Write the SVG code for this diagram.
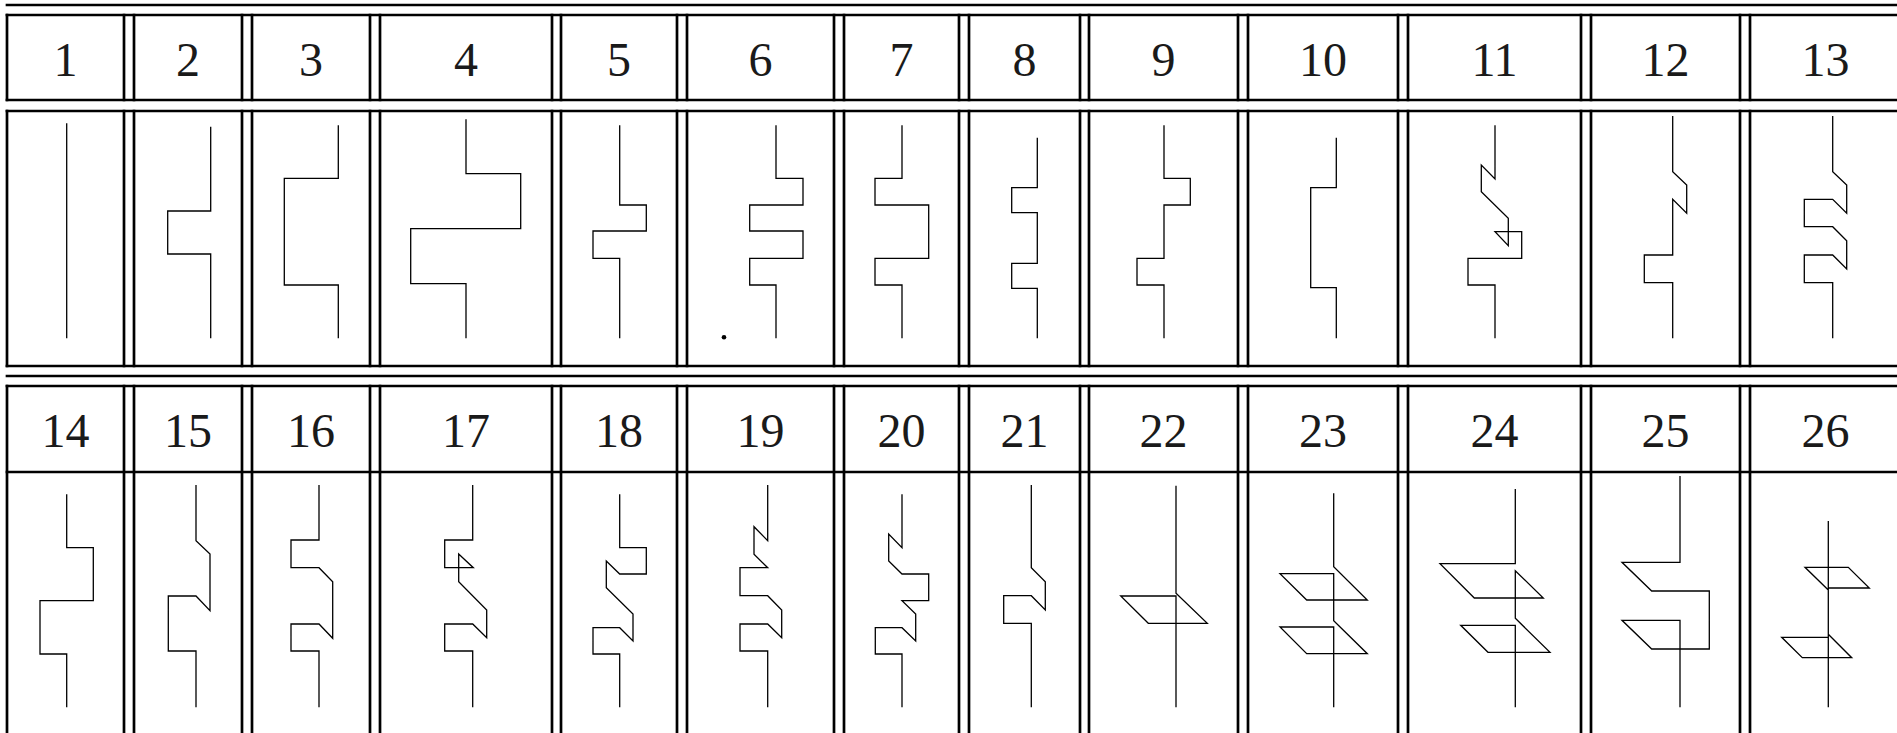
<svg xmlns="http://www.w3.org/2000/svg" width="1897" height="733" viewBox="0 0 1897 733">
<style>
.rule{fill:none;stroke:#000;stroke-width:2.7;stroke-linecap:square}
.fig{fill:none;stroke:#000;stroke-width:1.3;stroke-linejoin:miter}
.num{font-family:"Liberation Serif","DejaVu Serif",serif;font-size:48px;fill:#1a1a1a;text-anchor:middle}
</style>
<rect width="1897" height="733" fill="#fff"/>
<g id="table">
<path class="rule" d="M7,5H1897 M7,15H1897 M7,100H1897 M7,111H1897 M7,366H1897 M7,376H1897 M7,386H1897 M7,472H1897"/>
<path class="rule" d="M7,15V100 M124,15V100 M134,15V100 M242,15V100 M252,15V100 M370,15V100 M380,15V100 M552,15V100 M561,15V100 M677,15V100 M687,15V100 M834,15V100 M844,15V100 M959,15V100 M969,15V100 M1080,15V100 M1089,15V100 M1238,15V100 M1248,15V100 M1398,15V100 M1408,15V100 M1581,15V100 M1591,15V100 M1740,15V100 M1750,15V100"/>
<path class="rule" d="M7,111V366 M124,111V366 M134,111V366 M242,111V366 M252,111V366 M370,111V366 M380,111V366 M552,111V366 M561,111V366 M677,111V366 M687,111V366 M834,111V366 M844,111V366 M959,111V366 M969,111V366 M1080,111V366 M1089,111V366 M1238,111V366 M1248,111V366 M1398,111V366 M1408,111V366 M1581,111V366 M1591,111V366 M1740,111V366 M1750,111V366"/>
<path class="rule" d="M7,386V735 M124,386V735 M134,386V735 M242,386V735 M252,386V735 M370,386V735 M380,386V735 M552,386V735 M561,386V735 M677,386V735 M687,386V735 M834,386V735 M844,386V735 M959,386V735 M969,386V735 M1080,386V735 M1089,386V735 M1238,386V735 M1248,386V735 M1398,386V735 M1408,386V735 M1581,386V735 M1591,386V735 M1740,386V735 M1750,386V735"/>
</g>
<g id="item-1"><text class="num" x="65.5" y="76">1</text><path class="fig" d="M66.7,123.3V338.3"/></g>
<g id="item-2"><text class="num" x="188" y="76">2</text><path class="fig" d="M210.7,126.7V211H167.7V254H210.7V338.3"/></g>
<g id="item-3"><text class="num" x="311" y="76">3</text><path class="fig" d="M338.3,125.3V178.3H284.3V285H338.3V338.3"/></g>
<g id="item-4"><text class="num" x="466" y="76">4</text><path class="fig" d="M466,119.3V173.7H520.7V228.7H410.7V283.7H466V338.3"/></g>
<g id="item-5"><text class="num" x="619" y="76">5</text><path class="fig" d="M619.7,125.3V205H646.3V231H593V258.3H619.7V338.3"/></g>
<g id="item-6"><text class="num" x="760.5" y="76">6</text><path class="fig" d="M776,125.3V178.3H803V205H749.7V231H803V258.3H749.7V285H776V338.3"/><circle cx="724" cy="337.3" r="2.3" fill="#000"/></g>
<g id="item-7"><text class="num" x="901.5" y="76">7</text><path class="fig" d="M902,125.3V178.3H875V205H928.7V258.3H875V285H902V338.3"/></g>
<g id="item-8"><text class="num" x="1024.5" y="76">8</text><path class="fig" d="M1037.3,137.7V187.7H1011.7V212.7H1037.3V263.3H1011.7V288.3H1037.3V338.3"/></g>
<g id="item-9"><text class="num" x="1163.5" y="76">9</text><path class="fig" d="M1164,125.3V178.3H1190.3V205H1164V258.3H1137V285H1164V338.3"/></g>
<g id="item-10"><text class="num" x="1323" y="76">10</text><path class="fig" d="M1336.3,137.7V187.7H1310.7V287.7H1336.3V338.3"/></g>
<g id="item-11"><text class="num" x="1494.5" y="76">11</text><path class="fig" d="M1495,125.3V179L1481.3,165V191.7L1508.3,218.3V245.7L1495,231.7H1521.7V258.3H1468V285H1495V338.3"/></g>
<g id="item-12"><text class="num" x="1665.5" y="76">12</text><path class="fig" d="M1672.7,116V171.7L1686.7,185V213.3L1672.7,199.3V255H1644.3V282.7H1672.7V338.3"/></g>
<g id="item-13"><text class="num" x="1825.5" y="76">13</text><path class="fig" d="M1832.7,116V171.7L1846.7,185V213.3L1832.7,199.3H1804.3V226.7H1832.7L1846.7,240.7V269L1832.7,255H1804.3V282.7H1832.7V338.3"/></g>
<g id="item-14"><text class="num" x="65.5" y="447">14</text><path class="fig" d="M66.7,494.3V547.7H93.3V600.7H40V654H66.7V707.3"/></g>
<g id="item-15"><text class="num" x="188" y="447">15</text><path class="fig" d="M196,485V540.7L210,554V610.7L196,596H168.3V651H196V707.3"/></g>
<g id="item-16"><text class="num" x="311" y="447">16</text><path class="fig" d="M319,485V540H291V567.7H319L332.7,581.7V638.3L319,624H291V651H319V707.3"/></g>
<g id="item-17"><text class="num" x="466" y="447">17</text><path class="fig" d="M472.7,485V540H444.7V567.7H473.3L458.7,554V581.7L486.7,610V637.7L472.7,624H444.7V651H472.7V707.3"/></g>
<g id="item-18"><text class="num" x="619" y="447">18</text><path class="fig" d="M619.7,494.3V547.7H646.3V574H619.7L606.3,561V587.7L633,614V641L619.7,627.7H593V654H619.7V707.3"/></g>
<g id="item-19"><text class="num" x="760.5" y="447">19</text><path class="fig" d="M767.7,485V540.7L754,526.7V554.3L767.7,567.7H740V595.7H767.7L781.7,610V637.7L767.7,624H740V651H767.7V707.3"/></g>
<g id="item-20"><text class="num" x="901.5" y="447">20</text><path class="fig" d="M902,494.3V547.7L888.7,534V561L902,574H928.7V600.7H902L915.7,614V641L902,627.7H875.3V654H902V707.3"/></g>
<g id="item-21"><text class="num" x="1024.5" y="447">21</text><path class="fig" d="M1031.3,485V567.7L1045.3,581.7V610L1031.3,595.7H1003.7V623.3H1031.3V707.3"/></g>
<g id="item-22"><text class="num" x="1163.5" y="447">22</text><path class="fig" d="M1176,485.7V593.3L1207.3,623.3H1148.3L1120.7,596H1176V707.3"/></g>
<g id="item-23"><text class="num" x="1323" y="447">23</text><path class="fig" d="M1333.7,493.3V566.7L1367.3,600H1306.7L1280,573.7H1333.7V620.7L1367.3,653.7H1306.7L1280,627H1333.7V707.3"/></g>
<g id="item-24"><text class="num" x="1494.5" y="447">24</text><path class="fig" d="M1515.3,489V563.7H1440L1474.3,598H1543.3L1515.3,570.7V618.3L1550,652.3H1488L1460.7,625.3H1515.3V707.3"/></g>
<g id="item-25"><text class="num" x="1665.5" y="447">25</text><path class="fig" d="M1680,476V562.3H1622L1651.7,591H1709.3V649H1651.7L1622,620.3H1680V707.3"/></g>
<g id="item-26"><text class="num" x="1825.5" y="447">26</text><path class="fig" d="M1828.3,521V707.3M1828.3,590L1805,567.3H1848.3L1869.3,588H1828.3M1828.3,634.3L1851.7,657.7H1802.3L1781.7,637.3H1828.3"/></g>
</svg>
